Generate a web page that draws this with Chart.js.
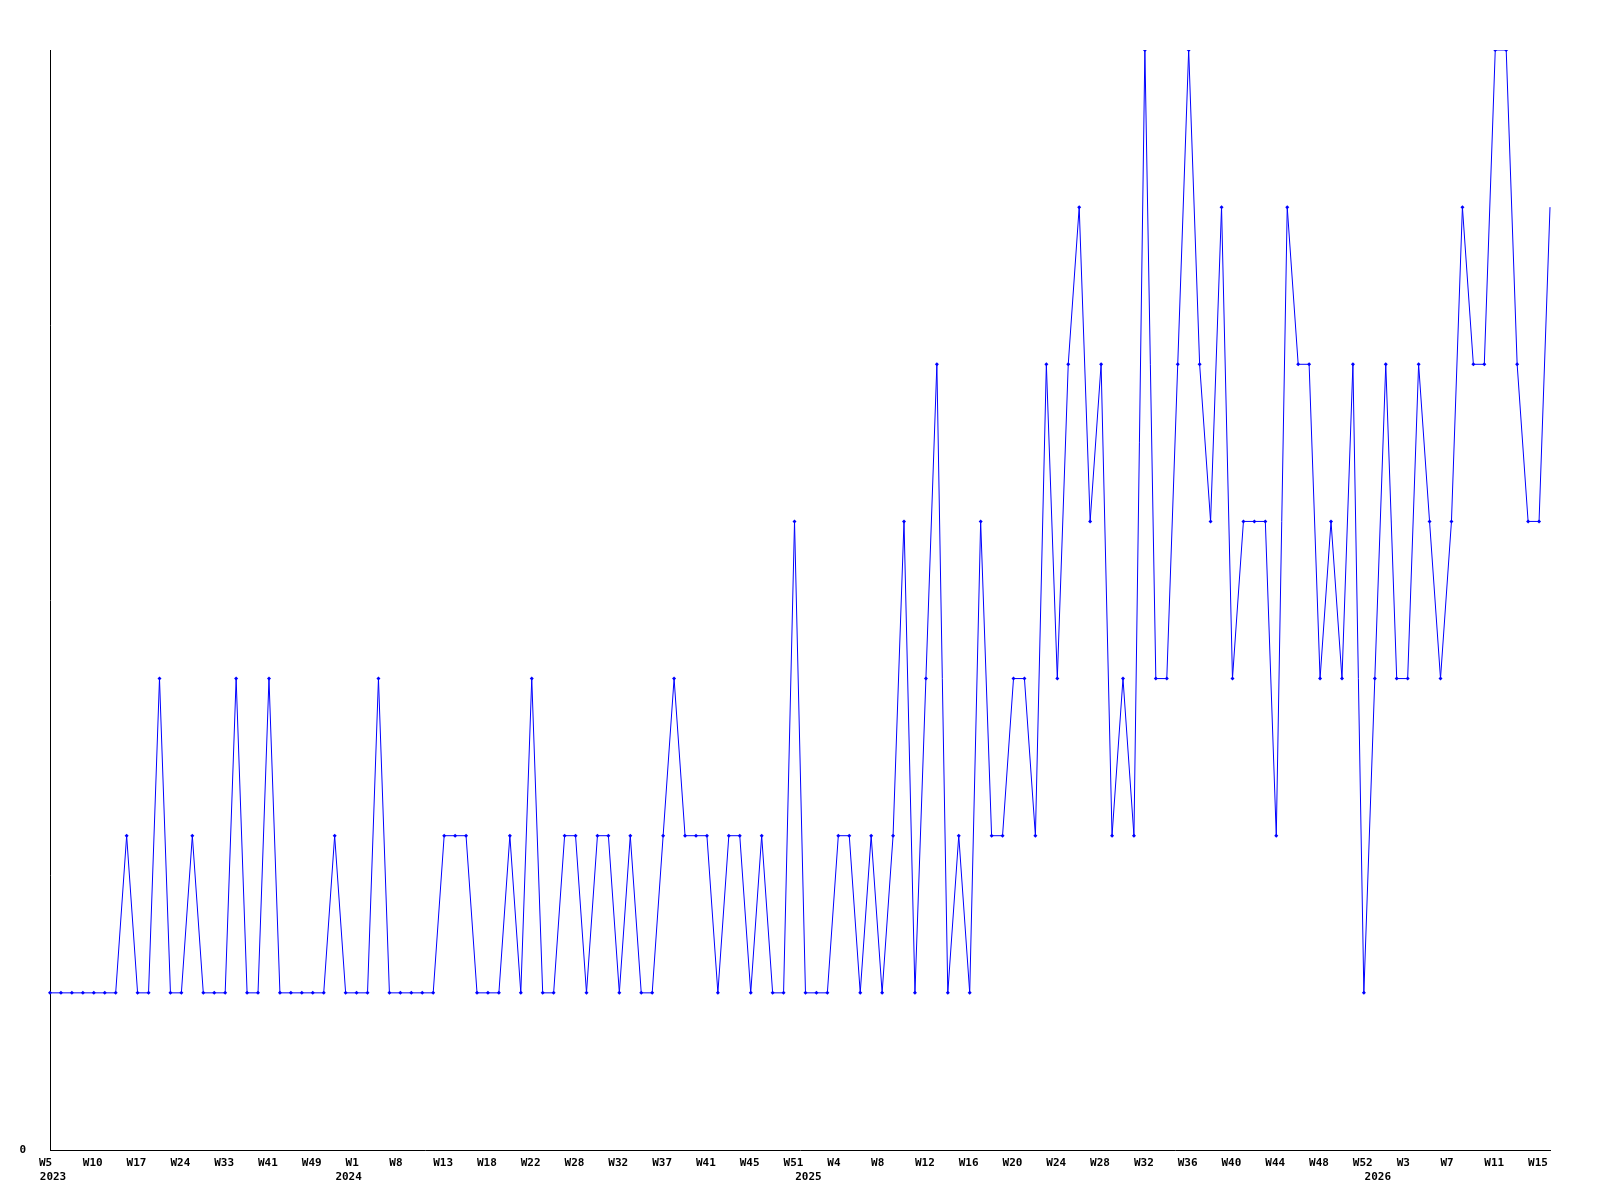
<!DOCTYPE html>
<html>
<head>
<meta charset="utf-8">
<script src="https://cdn.jsdelivr.net/npm/chart.js@4/dist/chart.umd.min.js"></script>
<style>
  html, body { margin: 0; padding: 0; background: #fff; }
  #wrap { width: 1600px; height: 1200px; }
</style>
</head>
<body>
<div id="wrap"><canvas id="myChart" width="1600" height="1200"></canvas></div>
<script>
// one value per data point (weekly, some weeks missing)
const counts = [
  1, 1, 1, 1, 1, 1, 1, 2, 1, 1, 3, 1, 1, 2, 1, 1, 1, 3, 1, 1,
  3, 1, 1, 1, 1, 1, 2, 1, 1, 1, 3, 1, 1, 1, 1, 1, 2, 2, 2, 1,
  1, 1, 2, 1, 3, 1, 1, 2, 2, 1, 2, 2, 1, 2, 1, 1, 2, 3, 2, 2,
  2, 1, 2, 2, 1, 2, 1, 1, 4, 1, 1, 1, 2, 2, 1, 2, 1, 2, 4, 1,
  3, 5, 1, 2, 1, 4, 2, 2, 3, 3, 2, 5, 3, 5, 6, 4, 5, 2, 3, 2,
  7, 3, 3, 5, 7, 5, 4, 6, 3, 4, 4, 4, 2, 6, 5, 5, 3, 4, 3, 5,
  1, 3, 5, 3, 3, 5, 4, 3, 4, 6, 5, 5, 7, 7, 5, 4, 4, 6
];

// a week label every 4th point
const weekTicks = [
  "W5", "W10", "W17", "W24", "W33", "W41", "W49",
  "W1", "W8", "W13", "W18", "W22", "W28", "W32", "W37", "W41", "W45", "W51",
  "W4", "W8", "W12", "W16", "W20", "W24", "W28", "W32", "W36", "W40", "W44", "W48", "W52",
  "W3", "W7", "W11", "W15"
];
const tickEvery = 4;

// year labels sit near the point where each year begins
const years = ["2023", "2024", "2025", "2026"];
const yearStartIndex = [0, 27, 69, 121];

const labels = counts.map((_, i) => (i % tickEvery === 0 ? weekTicks[i / tickEvery] : ""));

const font = { family: "'DejaVu Sans Mono', monospace", size: 11, weight: "bold", lineHeight: 1.3 };

const config = {
  type: "line",
  data: {
    labels: labels,
    datasets: [
      {
        data: counts,
        xAxisID: "x",
        borderColor: "#0000ff",
        backgroundColor: "#0000ff",
        borderWidth: 1,
        tension: 0,
        pointStyle: "rectRot",
        pointRadius: (c) => (c.dataIndex === counts.length - 1 ? 0 : 2),
        pointBorderWidth: 0,
        fill: false,
      },
    ],
  },
  options: {
    responsive: false,
    animation: false,
    events: [],
    layout: { padding: { top: 50, right: 50, left: 0, bottom: 0 } },
    plugins: { legend: { display: false }, tooltip: { enabled: false } },
    scales: {
      x: {
        type: "category",
        position: "bottom",
        weight: 0,
        offset: false,
        grid: { display: false, drawTicks: false },
        border: { display: true, color: "#000", width: 1 },
        ticks: {
          autoSkip: false,
          maxRotation: 0,
          minRotation: 0,
          align: "start",
          labelOffset: -11,
          padding: 6,
          color: "#000",
          font: font,
        },
        afterFit: (scale) => { scale.height = 20; },
      },
      years: {
        type: "category",
        position: "bottom",
        weight: 1,
        offset: false,
        grid: { display: false, drawTicks: false },
        border: { display: false },
        ticks: {
          autoSkip: false,
          maxRotation: 0,
          minRotation: 0,
          labelOffset: 3,
          padding: 0,
          color: "#000",
          font: font,
          callback: (v, i) => {
            const k = yearStartIndex.indexOf(i);
            return k >= 0 ? years[k] : "";
          },
        },
        afterFit: (scale) => { scale.height = 30; },
      },
      y: {
        min: 0,
        max: 7,
        grid: { display: false, drawTicks: false },
        border: { display: true, color: "#000", width: 1 },
        ticks: {
          stepSize: 7,
          padding: 24,
          color: "#000",
          font: font,
          callback: (v) => (v === 0 ? "0" : ""),
        },
        afterFit: (scale) => { scale.width = 50; },
      },
    },
  },
};

const chart = new Chart(document.getElementById("myChart"), config);
</script>
</body>
</html>
